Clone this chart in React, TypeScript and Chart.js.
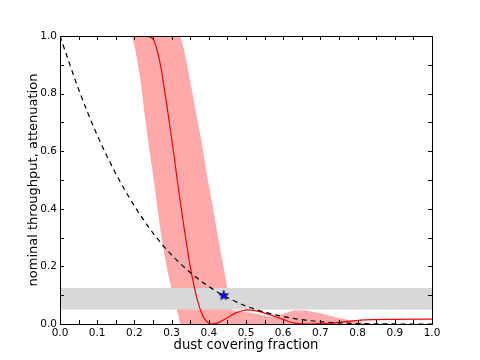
import React, { useEffect, useRef } from 'react';
import { Chart, registerables } from 'chart.js';

Chart.register(...registerables);

const FONT = 'DejaVu Sans';

// Tick labels and tick marks
const xTickValues = [0, 0.1, 0.2, 0.3, 0.4, 0.5, 0.6, 0.7, 0.8, 0.9, 1.0];
const xTickLabels = ['0.0', '0.1', '0.2', '0.3', '0.4', '0.5', '0.6', '0.7', '0.8', '0.9', '1.0'];
const yTickValues = [0, 0.2, 0.4, 0.6, 0.8, 1.0];
const yTickLabels = ['0.0', '0.2', '0.4', '0.6', '0.8', '1.0'];
const xTickMarks = [0, 0.05, 0.1, 0.15, 0.2, 0.25, 0.3, 0.35, 0.4, 0.45, 0.5, 0.55, 0.6, 0.65, 0.7, 0.75, 0.8, 0.85, 0.9, 0.95, 1.0];
const yTickMarks = [0, 0.1, 0.2, 0.3, 0.4, 0.5, 0.6, 0.7, 0.8, 0.9, 1.0];

// Dashed attenuation curve
const attenX = [0, 0.05, 0.1, 0.15, 0.2, 0.25, 0.3, 0.35, 0.4, 0.45, 0.5, 0.55, 0.6, 0.65, 0.7, 0.75, 0.8, 0.85, 0.9, 0.95, 1.0];
const attenY = [1.0, 0.815, 0.656, 0.522, 0.41, 0.316, 0.24, 0.179, 0.13, 0.092, 0.0625, 0.041, 0.026, 0.015, 0.008, 0.004, 0.0016, 0.0005, 0.0001, 0.0, 0.0];

// Red model throughput curve
const modelX = [0.232, 0.245, 0.252, 0.26, 0.27, 0.28, 0.29, 0.30, 0.31, 0.32, 0.33, 0.34, 0.35, 0.36, 0.37, 0.38, 0.39, 0.40, 0.41, 0.42, 0.43, 0.45, 0.47, 0.49, 0.505, 0.52, 0.55, 0.58, 0.60, 0.62, 0.64, 0.66, 0.70, 0.74, 0.78, 0.82, 0.9, 1.0];
const modelY = [1.0, 0.995, 0.985, 0.955, 0.90, 0.82, 0.735, 0.645, 0.55, 0.455, 0.365, 0.28, 0.20, 0.135, 0.08, 0.04, 0.015, 0.003, 0.0, 0.002, 0.008, 0.022, 0.037, 0.046, 0.049, 0.047, 0.038, 0.025, 0.016, 0.006, 0.001, 0.0, 0.001, 0.004, 0.01, 0.014, 0.016, 0.017];

// Pink uncertainty band: upper edge and lower edge
const bandUpperX = [0.193, 0.323, 0.334, 0.352, 0.366, 0.381, 0.396, 0.409, 0.421, 0.432, 0.441, 0.448, 0.457, 0.465, 0.48, 0.5, 0.53, 0.56, 0.575, 0.6, 0.63, 0.66, 0.7, 0.75, 0.8, 0.84];
const bandUpperY = [1.0, 1.0, 0.95, 0.83, 0.73, 0.63, 0.51, 0.42, 0.33, 0.25, 0.19, 0.14, 0.06, 0.048, 0.043, 0.041, 0.036, 0.026, 0.024, 0.036, 0.048, 0.047, 0.037, 0.021, 0.008, 0.0];
const bandLowerX = [0.193, 0.203, 0.216, 0.23, 0.243, 0.252, 0.262, 0.274, 0.288, 0.302, 0.314, 0.323, 0.84];
const bandLowerY = [1.0, 0.95, 0.85, 0.70, 0.58, 0.50, 0.40, 0.29, 0.19, 0.11, 0.05, 0.0, 0.0];

// Grey observed band
const obsBandX = [0, 1];
const obsBandLow = [0.05, 0.05];
const obsBandHigh = [0.125, 0.125];

// Star marker
const starX = [0.44];
const starY = [0.10];

function makeStar(): HTMLCanvasElement {
  const c = document.createElement('canvas');
  c.width = 12;
  c.height = 12;
  const ctx = c.getContext('2d')!;
  const cx = 6, cy = 6.3, ro = 5.2, ri = 2.1;
  ctx.beginPath();
  for (let i = 0; i < 10; i++) {
    const r = i % 2 === 0 ? ro : ri;
    const a = -Math.PI / 2 + (i * Math.PI) / 5;
    const px = cx + r * Math.cos(a);
    const py = cy + r * Math.sin(a);
    if (i === 0) ctx.moveTo(px, py);
    else ctx.lineTo(px, py);
  }
  ctx.closePath();
  ctx.fillStyle = '#0000ff';
  ctx.fill();
  ctx.lineWidth = 0.7;
  ctx.strokeStyle = '#000033';
  ctx.stroke();
  return c;
}

const framePlugin = {
  id: 'frameTicks',
  afterDraw(chart: any) {
    const { ctx, chartArea } = chart;
    const xs = chart.scales.x;
    const ys = chart.scales.y;
    const { left, right, top, bottom } = chartArea;
    ctx.save();
    ctx.strokeStyle = '#000000';
    ctx.lineWidth = 1;
    ctx.beginPath();
    const tl = 4;
    xTickMarks.forEach((v) => {
      const px = Math.round(xs.getPixelForValue(v)) + 0.5;
      ctx.moveTo(px, bottom);
      ctx.lineTo(px, bottom - tl);
      ctx.moveTo(px, top);
      ctx.lineTo(px, top + tl);
    });
    yTickMarks.forEach((v) => {
      const py = Math.round(ys.getPixelForValue(v)) + 0.5;
      ctx.moveTo(left, py);
      ctx.lineTo(left + tl, py);
      ctx.moveTo(right, py);
      ctx.lineTo(right - tl, py);
    });
    ctx.stroke();
    ctx.strokeRect(Math.round(left) + 0.5, Math.round(top) + 0.5, Math.round(right - left), Math.round(bottom - top));
    ctx.restore();
  },
};

export default function App() {
  const ref = useRef<HTMLCanvasElement | null>(null);

  useEffect(() => {
    if (!ref.current) return;
    Chart.defaults.font.family = FONT;
    const star = makeStar();

    const bandPoly = [
      ...bandUpperX.map((x, i) => ({ x, y: bandUpperY[i] })),
      ...bandLowerX.map((x, i) => ({ x, y: bandLowerY[i] })).reverse(),
    ];
    const obsPoly = [
      ...obsBandX.map((x, i) => ({ x, y: obsBandHigh[i] })),
      ...obsBandX.map((x, i) => ({ x, y: obsBandLow[i] })).reverse(),
    ];

    const chart = new Chart(ref.current, {
      type: 'line',
      data: {
        datasets: [
          {
            label: 'star',
            data: starX.map((x, i) => ({ x, y: starY[i] })),
            showLine: false,
            pointStyle: star as any,
            pointRadius: 6,
            order: 0,
          },
          {
            label: 'attenuation',
            data: attenX.map((x, i) => ({ x, y: attenY[i] })),
            borderColor: '#000000',
            borderWidth: 1.2,
            borderDash: [5, 4],
            pointRadius: 0,
            fill: false,
            cubicInterpolationMode: 'monotone',
            order: 1,
          },
          {
            label: 'model',
            data: modelX.map((x, i) => ({ x, y: modelY[i] })),
            borderColor: '#ff0000',
            borderWidth: 1.2,
            pointRadius: 0,
            fill: false,
            cubicInterpolationMode: 'monotone',
            order: 2,
          },
          {
            label: 'observed',
            data: obsPoly,
            borderColor: 'rgba(0,0,0,0)',
            backgroundColor: '#d8d8d8',
            pointRadius: 0,
            fill: 'shape',
            tension: 0,
            order: 3,
          },
          {
            label: 'band',
            data: bandPoly,
            borderColor: 'rgba(0,0,0,0)',
            backgroundColor: '#ffaaaa',
            pointRadius: 0,
            fill: 'shape',
            tension: 0,
            order: 4,
          },
        ] as any,
      },
      options: {
        animation: false,
        responsive: false,
        devicePixelRatio: 1,
        events: [],
        layout: { padding: { top: 36, right: 48, left: 0, bottom: 0 } },
        plugins: { legend: { display: false }, tooltip: { enabled: false } },
        scales: {
          x: {
            type: 'linear',
            min: 0,
            max: 1,
            afterFit: (s: any) => {
              s.height = 36;
            },
            afterBuildTicks: (s: any) => {
              s.ticks = xTickValues.map((v) => ({ value: v }));
            },
            ticks: {
              autoSkip: false,
              maxRotation: 0,
              padding: 3,
              color: '#000000',
              font: { family: FONT, size: 10.5 },
              callback: (_v: any, i: number) => xTickLabels[i],
            },
            grid: { display: false, drawTicks: false },
            border: { display: false },
            title: {
              display: true,
              text: 'dust covering fraction',
              color: '#000000',
              font: { family: FONT, size: 13.2 },
              padding: { top: 0, bottom: 7 },
            },
          },
          y: {
            type: 'linear',
            min: 0,
            max: 1,
            afterFit: (s: any) => {
              s.width = 60;
            },
            afterBuildTicks: (s: any) => {
              s.ticks = yTickValues.map((v) => ({ value: v }));
            },
            ticks: {
              autoSkip: false,
              padding: 3,
              color: '#000000',
              font: { family: FONT, size: 10.5 },
              callback: (_v: any, i: number) => yTickLabels[i],
            },
            grid: { display: false, drawTicks: false },
            border: { display: false },
            title: {
              display: true,
              text: 'nominal throughput, attenuation',
              color: '#000000',
              font: { family: FONT, size: 13 },
              padding: { top: 26, bottom: 0 },
            },
          },
        },
      },
      plugins: [framePlugin],
    });
    return () => chart.destroy();
  }, []);

  return (
    <div style={{ position: 'fixed', left: 0, top: 0, width: 480, height: 360, background: '#ffffff' }}>
      <canvas ref={ref} width={480} height={360} style={{ width: 480, height: 360 }} />
    </div>
  );
}
